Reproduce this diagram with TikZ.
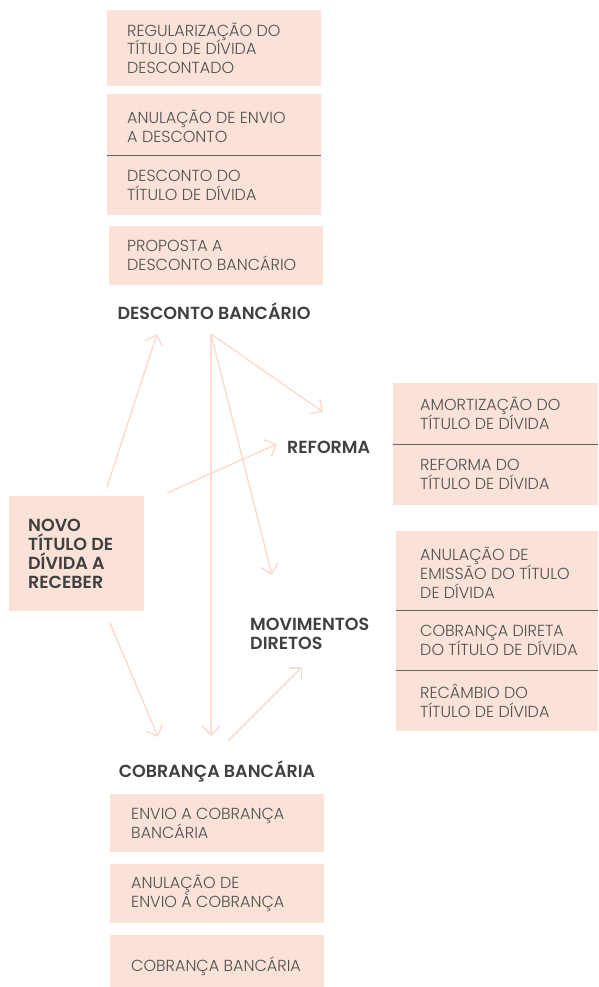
\documentclass[tikz,border=0pt]{standalone}
\usepackage{fontspec}
\setmainfont{Poppins}
\newfontfamily\lightfont{Poppins Light}
\newfontfamily\semifont{Poppins SemiBold}
\usetikzlibrary{arrows.meta}
\definecolor{boxfill}{RGB}{251,226,216}
\definecolor{arrowc}{RGB}{250,221,208}
\definecolor{txt}{RGB}{80,80,80}
\definecolor{head}{RGB}{64,64,64}
\definecolor{divc}{RGB}{105,98,98}
\tikzset{
  boxshape/.style={fill=boxfill, draw=none, anchor=north west, inner sep=0pt},
  boxtext/.style={anchor=west, inner sep=0pt, align=left, text=txt, font=\lightfont\fontsize{16}{18.8}\selectfont},
  headtext/.style={inner sep=0pt, align=left, text=head, font=\semifont\fontsize{17.5}{19}\selectfont},
  divline/.style={draw=divc, line width=1.2pt},
  arr/.style={draw=arrowc, line width=1.5pt, -{Straight Barb[length=9pt,width=18pt,line width=1.5pt]}},
}
\begin{document}
\begin{tikzpicture}[x=1pt,y=-1pt]
\useasboundingbox (0,0) rectangle (598,987);
% top stack
\node[boxshape, minimum width=214pt, minimum height=76pt] (b1) at (107,10) {};
\node[boxtext] (b1t) at ([xshift=20pt]b1.west) {REGULARIZAÇÃO DO\\TÍTULO DE DÍVIDA\\DESCONTADO};
\node[boxshape, minimum width=214pt, minimum height=61pt] (b2a) at (107,94) {};
\node[boxshape, minimum width=214pt, minimum height=60pt] (b2b) at (107,155) {};
\draw[divline] (b2a.south west) -- (b2a.south east);
\node[boxtext] (b2at) at ([xshift=20pt,yshift=-2pt]b2a.west) {ANULAÇÃO DE ENVIO\\A DESCONTO};
\node[boxtext] (b2bt) at ([xshift=20pt]b2b.west) {DESCONTO DO\\TÍTULO DE DÍVIDA};
\node[boxshape, minimum width=214pt, minimum height=59pt] (b3) at (109,226) {};
\node[boxtext] (b3t) at ([xshift=18pt]b3.west) {PROPOSTA A\\DESCONTO BANCÁRIO};
\node[headtext] (desc) at (214,311) {DESCONTO BANCÁRIO};
% right stacks
\node[boxshape, minimum width=205pt, minimum height=61pt] (ra1) at (393,383) {};
\node[boxshape, minimum width=205pt, minimum height=61pt] (ra2) at (393,444) {};
\draw[divline] (ra1.south west) -- (ra1.south east);
\node[boxtext] (ra1t) at ([xshift=27pt]ra1.west) {AMORTIZAÇÃO DO\\TÍTULO DE DÍVIDA};
\node[boxtext] (ra2t) at ([xshift=27pt]ra2.west) {REFORMA DO\\TÍTULO DE DÍVIDA};
\node[boxshape, minimum width=202pt, minimum height=79pt] (rb1) at (396,531) {};
\node[boxshape, minimum width=202pt, minimum height=60pt] (rb2) at (396,610) {};
\node[boxshape, minimum width=202pt, minimum height=61pt] (rb3) at (396,670) {};
\draw[divline] (rb1.south west) -- (rb1.south east);
\draw[divline] (rb2.south west) -- (rb2.south east);
\node[boxtext] (rb1t) at ([xshift=24pt,yshift=-2pt]rb1.west) {ANULAÇÃO DE\\EMISSÃO DO TÍTULO\\DE DÍVIDA};
\node[boxtext] (rb2t) at ([xshift=24pt]rb2.west) {COBRANÇA DIRETA\\DO TÍTULO DE DÍVIDA};
\node[boxtext] (rb3t) at ([xshift=24pt]rb3.west) {RECÂMBIO DO\\TÍTULO DE DÍVIDA};
% left
\node[boxshape, minimum width=135pt, minimum height=115pt] (novo) at (9,496) {};
\node[headtext, anchor=west] (novot) at ([xshift=19pt]novo.west) {NOVO\\TÍTULO DE\\DÍVIDA A\\RECEBER};
% labels
\node[headtext, anchor=west] (ref) at (287,447) {REFORMA};
\node[headtext, anchor=west] (mov) at (250,634) {MOVIMENTOS\\DIRETOS};
\node[headtext] (cob) at (217,771) {COBRANÇA BANCÁRIA};
% bottom
\node[boxshape, minimum width=214pt, minimum height=58pt] (c1) at (110,794) {};
\node[boxtext] (c1t) at ([xshift=21pt]c1.west) {ENVIO A COBRANÇA\\BANCÁRIA};
\node[boxshape, minimum width=214pt, minimum height=59pt] (c2) at (110,864) {};
\node[boxtext] (c2t) at ([xshift=21pt]c2.west) {ANULAÇÃO DE\\ENVIO À COBRANÇA};
\node[boxshape, minimum width=214pt, minimum height=52pt] (c3) at (110,935) {};
\node[boxtext] (c3t) at ([xshift=21pt,yshift=-5pt]c3.west) {COBRANÇA BANCÁRIA};
% arrow endpoints
\coordinate (n1) at (107,487);
\coordinate (d1) at (157,334);
\coordinate (n2) at (167,493);
\coordinate (r1) at (277,444);
\coordinate (ds) at (211,334);
\coordinate (r2) at (323,412);
\coordinate (m1) at (272,575);
\coordinate (cb1) at (211,736);
\coordinate (n3) at (110,623);
\coordinate (cb2) at (158,737);
\coordinate (cs) at (228,741);
\coordinate (m2) at (302,667);
\draw[arr] (n1) -- (d1);
\draw[arr] (n2) -- (r1);
\draw[arr] (ds) -- (r2);
\draw[arr] (ds) -- (m1);
\draw[arr] (ds) -- (cb1);
\draw[arr] (n3) -- (cb2);
\draw[arr] (cs) -- (m2);
\end{tikzpicture}
\end{document}
